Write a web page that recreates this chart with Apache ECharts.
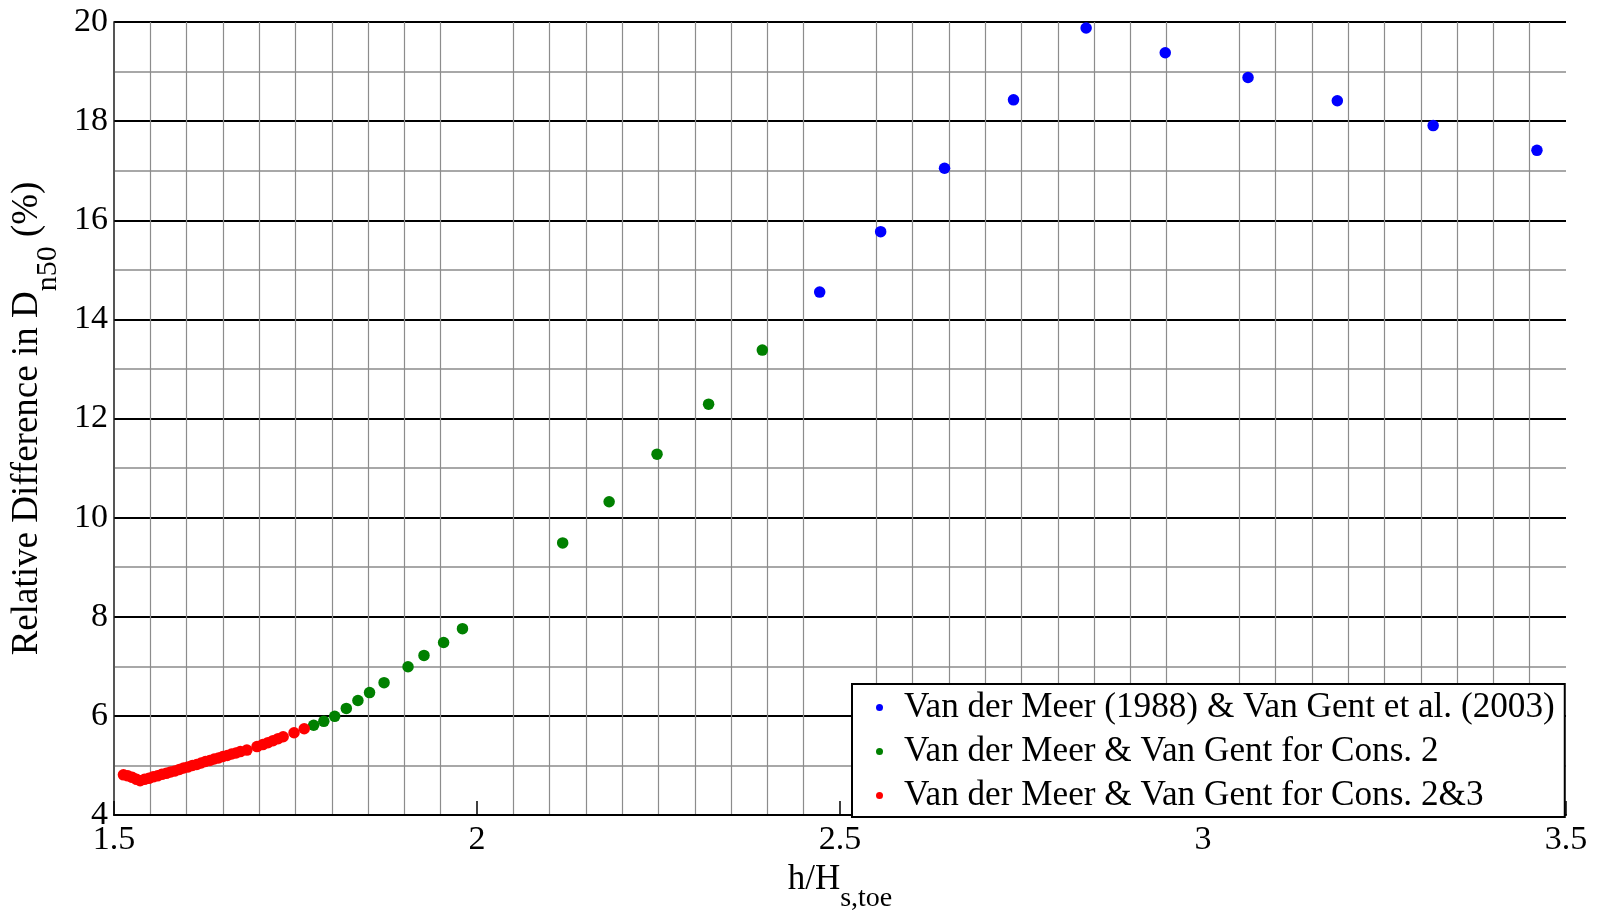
<!DOCTYPE html>
<html>
<head>
<meta charset="utf-8">
<script src="https://cdn.jsdelivr.net/npm/echarts@6/dist/echarts.min.js"></script>
<style>
html,body{margin:0;padding:0;background:#fff;}
#chart{width:1600px;height:912px;}
</style>
</head>
<body>
<div id="chart"></div>
<script>
// ---- Data ----
const seriesNames = [
  'Van der Meer (1988) & Van Gent et al. (2003)',
  'Van der Meer & Van Gent for Cons. 2',
  'Van der Meer & Van Gent for Cons. 2&3'
];
const blueX = [2.472, 2.556, 2.644, 2.739, 2.839, 2.948, 3.062, 3.185, 3.317, 3.460];
const blueY = [14.55, 15.77, 17.05, 18.43, 19.88, 19.38, 18.88, 18.41, 17.91, 17.41];
const greenX = [1.775, 1.789, 1.804, 1.820, 1.836, 1.852, 1.872, 1.905, 1.927, 1.954, 1.980, 2.118, 2.182, 2.248, 2.319, 2.393];
const greenY = [5.81, 5.89, 5.99, 6.15, 6.31, 6.47, 6.67, 6.99, 7.22, 7.48, 7.76, 9.49, 10.32, 11.28, 12.29, 13.38];
const redX = [1.513, 1.519, 1.525, 1.531, 1.536, 1.542, 1.548, 1.554, 1.560, 1.566, 1.572, 1.578, 1.584, 1.590, 1.596, 1.602, 1.608, 1.614, 1.620, 1.626, 1.632, 1.638, 1.644, 1.650, 1.656, 1.662, 1.668, 1.674, 1.683, 1.697, 1.705, 1.712, 1.719, 1.726, 1.733, 1.748, 1.762];
const redY = [4.81, 4.79, 4.76, 4.72, 4.69, 4.72, 4.74, 4.77, 4.79, 4.82, 4.84, 4.87, 4.89, 4.92, 4.95, 4.97, 5.00, 5.02, 5.05, 5.08, 5.10, 5.13, 5.15, 5.18, 5.20, 5.23, 5.25, 5.28, 5.31, 5.38, 5.42, 5.46, 5.50, 5.54, 5.58, 5.66, 5.74];
const xTicks = [1.5, 2, 2.5, 3, 3.5];
const yTicks = [4, 6, 8, 10, 12, 14, 16, 18, 20];

const FONT = '"Liberation Serif", "Times New Roman", serif';
const zip = (xs, ys) => xs.map((x, i) => [x, ys[i]]);

const chart = echarts.init(document.getElementById('chart'), null, {renderer: 'canvas'});
chart.setOption({
  backgroundColor: '#fff',
  animation: false,
  grid: {left: 114, right: 34, top: 22, bottom: 97, containLabel: false, outerBoundsMode: 'none'},
  legend: {
    orient: 'vertical',
    left: 852, top: 684,
    padding: [6, 10, 4, 24],
    itemGap: 9,
    itemWidth: 7, itemHeight: 7,
    icon: 'circle',
    backgroundColor: '#fff',
    borderColor: '#000',
    borderWidth: 2,
    borderRadius: 0,
    selectedMode: false,
    textStyle: {fontFamily: FONT, fontSize: 35.2, lineHeight: 34, color: '#000', padding: [0, 0, 0, 16]},
    data: seriesNames
  },
  xAxis: {
    type: 'value',
    min: xTicks[0], max: xTicks[xTicks.length - 1], interval: 0.5,
    name: '{a|h/H}{b|s,toe}',
    nameLocation: 'middle',
    nameGap: 40,
    nameTextStyle: {
      rich: {
        a: {fontFamily: FONT, fontSize: 35, color: '#000', lineHeight: 40, verticalAlign: 'top'},
        b: {fontFamily: FONT, fontSize: 28, color: '#000', lineHeight: 51, verticalAlign: 'bottom'}
      }
    },
    axisLine: {show: true, onZero: false, lineStyle: {color: '#000', width: 2}},
    axisTick: {show: true, inside: true, length: 14, lineStyle: {color: '#000', width: 1.5}},
    axisLabel: {fontFamily: FONT, fontSize: 34, color: '#000', margin: 8, showMinLabel: true, showMaxLabel: true,
      formatter: v => String(v)},
    splitLine: {show: false},
    minorTick: {show: false, splitNumber: 10},
    minorSplitLine: {show: true, lineStyle: {color: '#8c8c8c', width: 1.2}}
  },
  yAxis: {
    type: 'value',
    min: yTicks[0], max: yTicks[yTicks.length - 1], interval: 2,
    name: '{a|Relative Difference in D}{b|n50}{a| (%)}',
    nameLocation: 'middle',
    nameRotate: 90,
    nameGap: 39,
    nameTextStyle: {
      rich: {
        a: {fontFamily: FONT, fontSize: 37, color: '#000', lineHeight: 40, verticalAlign: 'top'},
        b: {fontFamily: FONT, fontSize: 30, color: '#000', lineHeight: 54, verticalAlign: 'bottom'}
      }
    },
    axisLine: {show: true, onZero: false, lineStyle: {color: '#555', width: 2}},
    axisTick: {show: true, inside: true, length: 14, lineStyle: {color: '#000', width: 1.5}},
    axisLabel: {fontFamily: FONT, fontSize: 34, color: '#000', margin: 6, showMinLabel: true, showMaxLabel: true},
    splitLine: {show: true, lineStyle: {color: '#000', width: 2}},
    minorTick: {show: false, splitNumber: 2},
    minorSplitLine: {show: true, lineStyle: {color: '#8c8c8c', width: 1.5}}
  },
  series: [
    {name: seriesNames[0], type: 'scatter', data: zip(blueX, blueY), symbolSize: 11.5, itemStyle: {color: '#0000ff', opacity: 1}, z: 5},
    {name: seriesNames[1], type: 'scatter', data: zip(greenX, greenY), symbolSize: 11.5, itemStyle: {color: '#008000', opacity: 1}, z: 5},
    {name: seriesNames[2], type: 'scatter', data: zip(redX, redY), symbolSize: 11.5, itemStyle: {color: '#ff0000', opacity: 1}, z: 5}
  ]
});
</script>
</body>
</html>
